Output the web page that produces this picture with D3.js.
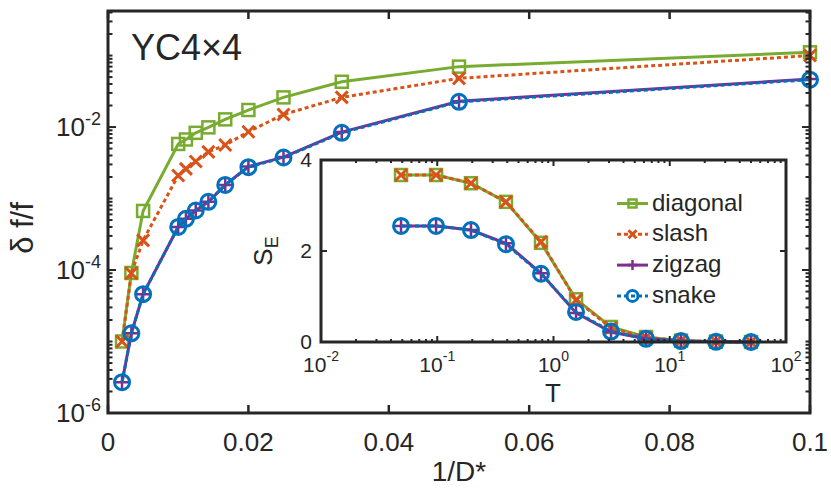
<!DOCTYPE html>
<html>
<head>
<meta charset="utf-8">
<script src="https://cdn.jsdelivr.net/npm/d3@7"></script>
<style>
  body { margin: 0; background: #fff; }
  text { font-family: "Liberation Sans", Arial, sans-serif; fill: #262626; }
</style>
</head>
<body>
<div id="chart"></div>
<script>
// Main panel: relative error vs 1/D*
const invD = [0.002, 0.00333, 0.005, 0.01, 0.0111, 0.0125, 0.0143, 0.0167, 0.02, 0.025, 0.0333, 0.05, 0.1];
const errDiagonal = [1.0e-5, 9.1e-5, 6.7e-4, 5.8e-3, 6.7e-3, 8.3e-3, 9.9e-3, 1.28e-2, 1.73e-2, 2.6e-2, 4.3e-2, 7.0e-2, 0.111];
const errSlash = [1.0e-5, 9.0e-5, 2.6e-4, 2.1e-3, 2.6e-3, 3.3e-3, 4.5e-3, 5.6e-3, 8.6e-3, 1.5e-2, 2.6e-2, 4.8e-2, 0.10];
const errZigzag = [2.7e-6, 1.3e-5, 4.6e-5, 4.0e-4, 5.2e-4, 6.8e-4, 9.0e-4, 1.55e-3, 2.8e-3, 3.8e-3, 8.5e-3, 2.3e-2, 4.7e-2];
const errSnake = [2.7e-6, 1.3e-5, 4.6e-5, 4.0e-4, 5.2e-4, 6.8e-4, 9.0e-4, 1.55e-3, 2.75e-3, 3.75e-3, 8.3e-3, 2.25e-2, 4.6e-2];

// Inset: entanglement entropy vs T
const temps = [0.0488, 0.0977, 0.195, 0.39, 0.781, 1.5625, 3.125, 6.25, 12.5, 25, 50];
const sDiagonal = [3.67, 3.67, 3.49, 3.08, 2.18, 0.94, 0.33, 0.11, 0.03, 0.01, 0.0];
const sSlash = [3.67, 3.67, 3.49, 3.08, 2.2, 0.92, 0.31, 0.10, 0.03, 0.01, 0.0];
const sZigzag = [2.55, 2.55, 2.46, 2.17, 1.51, 0.64, 0.22, 0.07, 0.02, 0.005, 0.0];
const sSnake = [2.55, 2.55, 2.46, 2.15, 1.50, 0.66, 0.23, 0.07, 0.02, 0.005, 0.0];

const xTicks = [0, 0.02, 0.04, 0.06, 0.08, 0.1];
const yTicksMajor = [1e-6, 1e-4, 1e-2];
const insetXTicks = [1e-2, 1e-1, 1e0, 1e1, 1e2];
const insetYTicks = [0, 2, 4];

const series = [
  { name: "diagonal", color: "#77AC30", dash: null, marker: "square", main: errDiagonal, inset: sDiagonal },
  { name: "slash", color: "#D95319", dash: "4,3", marker: "cross", main: errSlash, inset: sSlash },
  { name: "zigzag", color: "#7E2F8E", dash: null, marker: "plus", main: errZigzag, inset: sZigzag },
  { name: "snake", color: "#0072BD", dash: "4,3", marker: "circle", main: errSnake, inset: sSnake }
];

const width = 831, height = 497;
const axisCol = "#262626";

const svg = d3.select("#chart").append("svg")
  .attr("width", width).attr("height", height)
  .attr("viewBox", `0 0 ${width} ${height}`);

// draw one marker of a given type at (cx, cy)
function drawMarker(g, type, cx, cy, color, s) {
  if (type === "square") {
    g.append("rect").attr("x", cx - s / 2).attr("y", cy - s / 2)
      .attr("width", s).attr("height", s)
      .attr("fill", "none").attr("stroke", color).attr("stroke-width", 2.5);
  } else if (type === "cross") {
    const h = s / 2;
    g.append("path").attr("d", `M${cx - h},${cy - h}L${cx + h},${cy + h}M${cx - h},${cy + h}L${cx + h},${cy - h}`)
      .attr("stroke", color).attr("stroke-width", 3).attr("fill", "none");
  } else if (type === "plus") {
    const h = s / 2 + 1;
    g.append("path").attr("d", `M${cx - h},${cy}L${cx + h},${cy}M${cx},${cy - h}L${cx},${cy + h}`)
      .attr("stroke", color).attr("stroke-width", 2.5).attr("fill", "none");
  } else {
    g.append("circle").attr("cx", cx).attr("cy", cy).attr("r", s / 2 + 1.5)
      .attr("fill", "none").attr("stroke", color).attr("stroke-width", 3);
  }
}

// ---------- main axes ----------
const x = d3.scaleLinear().domain([0, 0.1]).range([108, 810]);
const y = d3.scaleLog().domain([1e-6, 0.42]).range([413, 11]);
const [x0, x1] = x.range();
const [yb, yt] = y.range();

const main = svg.append("g");

series.forEach((s) => {
  const pts = invD.map((d, i) => [x(d), y(s.main[i])]);
  main.append("path")
    .attr("d", d3.line()(pts))
    .attr("fill", "none")
    .attr("stroke", s.color)
    .attr("stroke-width", 3)
    .attr("stroke-dasharray", s.dash);
  pts.forEach((p) => drawMarker(main, s.marker, p[0], p[1], s.color, 12));
});

// ticks, inward on all four sides
const tk = main.append("g").attr("stroke", axisCol);
xTicks.forEach((t) => {
  tk.append("line").attr("x1", x(t)).attr("x2", x(t)).attr("y1", yb).attr("y2", yb - 8).attr("stroke-width", 2.5);
  tk.append("line").attr("x1", x(t)).attr("x2", x(t)).attr("y1", yt).attr("y2", yt + 8).attr("stroke-width", 2.5);
});
for (let e = -6; e <= -1; e++) {
  for (let k = 1; k <= 9; k++) {
    const v = k * Math.pow(10, e);
    if (v > 0.42) continue;
    const major = yTicksMajor.some((m) => Math.abs(m - v) / m < 1e-6);
    const len = major ? 8 : 4.5;
    const yy = y(v);
    tk.append("line").attr("x1", x0).attr("x2", x0 + len).attr("y1", yy).attr("y2", yy).attr("stroke-width", 2);
    tk.append("line").attr("x1", x1).attr("x2", x1 - len).attr("y1", yy).attr("y2", yy).attr("stroke-width", 2);
  }
}

main.append("rect")
  .attr("x", x0).attr("y", yt).attr("width", x1 - x0).attr("height", yb - yt)
  .attr("fill", "none").attr("stroke", axisCol).attr("stroke-width", 3);

// tick labels
xTicks.forEach((t) => {
  main.append("text").attr("x", x(t)).attr("y", 451)
    .attr("text-anchor", "middle").attr("font-size", 26)
    .text(d3.format("~g")(t));
});
yTicksMajor.forEach((t) => {
  const lab = main.append("text").attr("x", 101).attr("y", y(t) + 9)
    .attr("text-anchor", "end");
  lab.append("tspan").attr("font-size", 26).text("10");
  lab.append("tspan").attr("font-size", 18).attr("dy", -11).text("-" + Math.round(-Math.log10(t)));
});

main.append("text").attr("x", 459).attr("y", 481)
  .attr("text-anchor", "middle").attr("font-size", 28).text("1/D*");
main.append("text").attr("transform", "translate(33,228) rotate(-90)")
  .attr("text-anchor", "middle").attr("font-size", 31).text("δ f/f");
main.append("text").attr("x", 131).attr("y", 60)
  .attr("font-size", 36).text("YC4×4");

// ---------- inset ----------
const xi = d3.scaleLog().domain([1e-2, 1e2]).range([321, 786]);
const yi = d3.scaleLinear().domain([0, 4]).range([342, 160]);
const [ix0, ix1] = xi.range();
const [iyb, iyt] = yi.range();

const inset = svg.append("g");
inset.append("rect")
  .attr("x", ix0).attr("y", iyt).attr("width", ix1 - ix0).attr("height", iyb - iyt)
  .attr("fill", "#fff");

series.forEach((s) => {
  const pts = temps.map((t, i) => [xi(t), yi(s.inset[i])]);
  inset.append("path")
    .attr("d", d3.line()(pts))
    .attr("fill", "none")
    .attr("stroke", s.color)
    .attr("stroke-width", 3)
    .attr("stroke-dasharray", s.dash);
  pts.forEach((p) => drawMarker(inset, s.marker, p[0], p[1], s.color, 12));
});

const itk = inset.append("g").attr("stroke", axisCol);
for (let e = -2; e <= 1; e++) {
  for (let k = 1; k <= 9; k++) {
    const xx = xi(k * Math.pow(10, e));
    const len = k === 1 ? 6 : 3;
    itk.append("line").attr("x1", xx).attr("x2", xx).attr("y1", iyb).attr("y2", iyb - len).attr("stroke-width", 2);
    itk.append("line").attr("x1", xx).attr("x2", xx).attr("y1", iyt).attr("y2", iyt + len).attr("stroke-width", 2);
  }
}
insetYTicks.forEach((t) => {
  itk.append("line").attr("x1", ix0).attr("x2", ix0 + 6).attr("y1", yi(t)).attr("y2", yi(t)).attr("stroke-width", 2);
  itk.append("line").attr("x1", ix1).attr("x2", ix1 - 6).attr("y1", yi(t)).attr("y2", yi(t)).attr("stroke-width", 2);
});

inset.append("rect")
  .attr("x", ix0).attr("y", iyt).attr("width", ix1 - ix0).attr("height", iyb - iyt)
  .attr("fill", "none").attr("stroke", axisCol).attr("stroke-width", 3);

// inset x labels: base "10" and exponent as separate texts, centred as a pair
insetXTicks.forEach((t) => {
  const e = String(Math.round(Math.log10(t)));
  const baseW = 23.4;
  const supW = e.length > 1 ? 12.4 : 7.8;
  const left = xi(t) - (baseW + supW) / 2;
  inset.append("text").attr("x", left).attr("y", 372).attr("font-size", 21).text("10");
  inset.append("text").attr("x", left + baseW).attr("y", 361).attr("font-size", 14).text(e);
});
insetYTicks.forEach((t) => {
  inset.append("text").attr("x", 312).attr("y", yi(t) + 6.5)
    .attr("text-anchor", "end").attr("font-size", 21).text(t);
});

inset.append("text").attr("x", 553).attr("y", 402)
  .attr("text-anchor", "middle").attr("font-size", 26).text("T");
const se = inset.append("text").attr("transform", "translate(272,251) rotate(-90)")
  .attr("text-anchor", "middle");
se.append("tspan").attr("font-size", 26).text("S");
se.append("tspan").attr("font-size", 18).attr("dy", 6).text("E");

// legend
const leg = inset.append("g");
series.forEach((s, i) => {
  const by = 210.5 + i * 30.8;
  const ly = by - 7;
  leg.append("line").attr("x1", 617).attr("x2", 648).attr("y1", ly).attr("y2", ly)
    .attr("stroke", s.color).attr("stroke-width", 3).attr("stroke-dasharray", s.dash);
  drawMarker(leg, s.marker, 632.5, ly, s.color, 8);
  leg.append("text").attr("x", 652).attr("y", by).attr("font-size", 24).text(s.name);
});
</script>
</body>
</html>
